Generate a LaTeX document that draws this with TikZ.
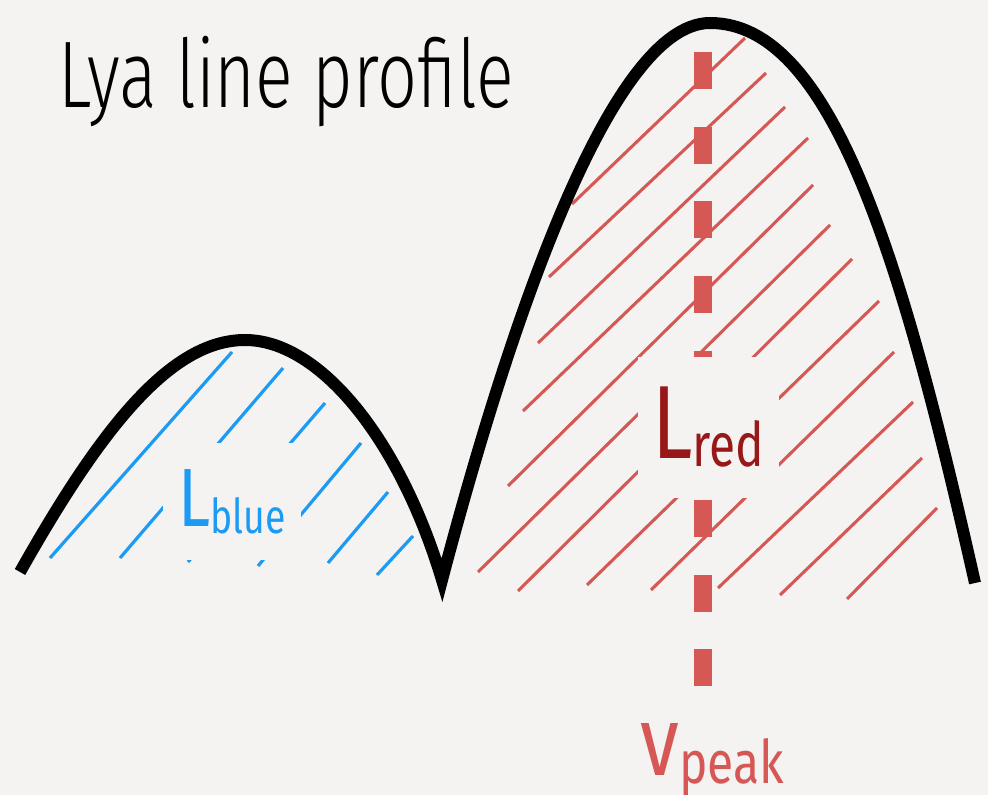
\documentclass[tikz,border=0pt]{standalone}
\usepackage{fontspec}
\setmainfont{Fira Sans}[UprightFont={* Light}]
\newfontfamily\labelfont{Fira Sans}
\definecolor{paper}{HTML}{F4F3F1}
\definecolor{hatchblue}{HTML}{1C9BF4}
\definecolor{hatchred}{HTML}{D55855}
\definecolor{darkred}{HTML}{981819}
\tikzset{
  profile/.style={line width=9pt, black, line join=miter, line cap=butt},
  bluehatch/.style={hatchblue, line width=2.4pt},
  redhatch/.style={hatchred, line width=2.3pt},
  peakline/.style={hatchred, line width=14pt, dash pattern=on 27.75pt off 28.25pt},
  knockout/.style={fill=paper, inner sep=0pt, align=center, font=\labelfont},
  plain/.style={inner sep=0pt, anchor=base west},
}
\begin{document}
\begin{tikzpicture}[x=0.75pt, y=-0.75pt]
  \useasboundingbox[fill=paper] (0,0) rectangle (988,795);

  % hatching under the blue (left) peak
  \draw[bluehatch] (50,558) -- (232,352);
  \draw[bluehatch] (120,558) -- (283,368);
  \draw[bluehatch] (188,562) -- (325,403);
  \draw[bluehatch] (258,566) -- (361,443);
  \draw[bluehatch] (328,563) -- (388,492);
  \draw[bluehatch] (377,575) -- (413,536);

  % hatching under the red (right) peak
  \draw[redhatch] (572,204) -- (745,38);
  \draw[redhatch] (549,277) -- (766,73);
  \draw[redhatch] (538,343) -- (785,107);
  \draw[redhatch] (523,411) -- (808,138);
  \draw[redhatch] (508,486) -- (813,185);
  \draw[redhatch] (478,572) -- (830,225);
  \draw[redhatch] (518,591) -- (852,259);
  \draw[redhatch] (587,585) -- (879,301);
  \draw[redhatch] (651,590) -- (894,352);
  \draw[redhatch] (718,588) -- (913,402);
  \draw[redhatch] (780,595) -- (922,458);
  \draw[redhatch] (847,599) -- (937,508);

  % peak velocity marker
  \coordinate (peaktop) at (703,52);
  \coordinate (peakbot) at (703,688);
  \draw[peakline] (peaktop) -- (peakbot);

  % the double-peaked line profile
  \coordinate (start) at (20,572);
  \coordinate (bluepeak) at (245,340);
  \coordinate (trough) at (442,580);
  \coordinate (redpeak) at (710,23);
  \coordinate (finish) at (975,583);
  \draw[profile] (start)
    .. controls (100,430) and (170,340) .. (bluepeak)
    .. controls (320,340) and (400,440) .. (trough)
    .. controls (500,360) and (605,23) .. (redpeak)
    .. controls (830,23) and (900,250) .. (finish);

  % labels
  \node[knockout, minimum width=103.5pt, minimum height=87.75pt] (lblue) at (232,501.5)
    {\scalebox{0.78}[1]{\color{hatchblue}\fontsize{62}{62}\selectfont L\raisebox{-5.25pt}{\fontsize{36}{36}\selectfont blue}}};
  \node[knockout, minimum width=105.75pt, minimum height=105.75pt] (lred) at (708.5,427.5)
    {\scalebox{0.78}[1]{\color{darkred}\fontsize{78}{78}\selectfont L\raisebox{-6pt}{\fontsize{46}{46}\selectfont red}}};

  \node[plain] (title) at (58,108)
    {\scalebox{0.74}[1]{\fontsize{71}{71}\selectfont Lya line profile}};

  \node[plain, text=hatchred, font=\labelfont] (vpeak) at (640,775)
    {\scalebox{0.8}[1]{\fontsize{74}{74}\selectfont v\raisebox{-6pt}{\fontsize{45}{45}\selectfont peak}}};
\end{tikzpicture}
\end{document}
